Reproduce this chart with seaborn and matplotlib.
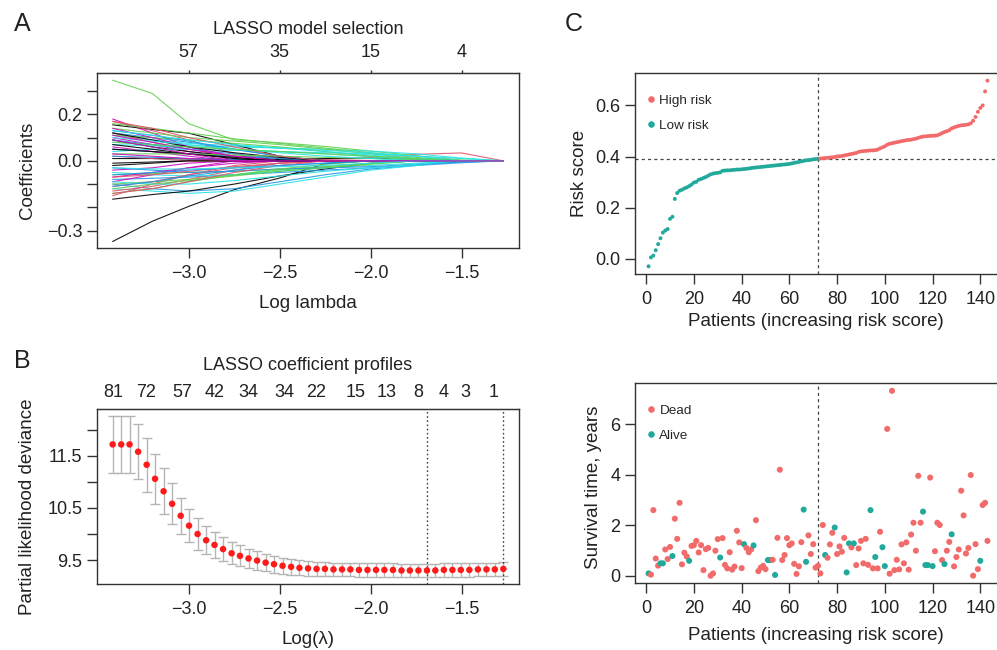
import numpy as np
import pandas as pd
import matplotlib
matplotlib.use('Agg')
import matplotlib.pyplot as plt
from matplotlib.lines import Line2D
import seaborn as sns

# ---- A: LASSO coefficient paths (values read at knot log-lambdas) ----
a_knots = [-3.418, -3.2, -3.0, -2.75, -2.5, -2.25, -2.0, -1.75, -1.5, -1.27]
a_paths = [
    [-0.347, -0.26, -0.196, -0.124, -0.074, -0.012, 0, 0, 0, 0],
    [0.05, 0.04, 0.03, 0.02, 0.012, 0.006, 0.01, 0.028, 0.034, 0],
    [0.347, 0.29, 0.16, 0.09, 0.078, 0.062, 0.042, 0.022, 0.004, 0],
    [-0.10, -0.12, -0.13, -0.12, -0.09, -0.06, -0.035, -0.02, -0.008, 0],
    [0.08, 0.07, 0.065, 0.06, 0.055, 0.05, 0.042, 0.03, 0.012, 0],
    [0.18, 0.12, 0.06, 0, 0, 0, 0, 0, 0, 0],
    [0.155, 0.135, 0.119, 0.07, 0.02, 0, 0, 0, 0, 0],
    [0.17, 0.13, 0.09, 0.03, 0, 0, 0, 0, 0, 0],
    [0.16, 0.14, 0.12, 0.095, 0.075, 0.055, 0.035, 0.015, 0, 0],
    [0.12, 0.10, 0.08, 0.05, 0.02, 0, 0, 0, 0, 0],
    [-0.12, -0.13, -0.14, -0.13, -0.10, -0.07, -0.04, -0.02, 0, 0],
    [0.10, 0.07, 0.04, 0.01, 0, 0, 0, 0, 0, 0],
    [-0.165, -0.145, -0.13, -0.10, -0.065, -0.035, -0.01, 0, 0, 0],
    [-0.15, -0.10, -0.06, -0.02, 0, 0, 0, 0, 0, 0],
    [0.14, 0.12, 0.10, 0.085, 0.07, 0.05, 0.03, 0.01, 0, 0],
    [-0.08, -0.075, -0.07, -0.06, -0.05, -0.04, -0.03, -0.015, -0.005, 0],
    [0.11, 0.09, 0.075, 0.065, 0.055, 0.045, 0.035, 0.02, 0, 0],
    [-0.09, -0.06, -0.03, 0, 0, 0, 0, 0, 0, 0],
    [0.09, 0.06, 0.04, 0.02, 0.005, 0, 0, 0, 0, 0],
    [-0.13, -0.11, -0.08, -0.04, -0.01, 0, 0, 0, 0, 0],
    [-0.10, -0.09, -0.08, -0.06, -0.04, -0.025, -0.01, 0, 0, 0],
    [0.05, 0.04, 0.03, 0.02, 0.01, 0, 0, 0, 0, 0],
    [-0.05, -0.06, -0.065, -0.06, -0.045, -0.03, -0.02, -0.01, 0, 0],
    [0.06, 0.04, 0.02, 0, 0, 0, 0, 0, 0, 0],
    [0.01, 0.01, 0.008, 0.006, 0.004, 0.01, 0.012, 0.006, 0, 0],
    [0.12, 0.08, 0.05, 0.02, 0, 0, 0, 0, 0, 0],
    [-0.06, -0.055, -0.05, -0.045, -0.035, -0.025, -0.012, 0, 0, 0],
    [0.09, 0.07, 0.05, 0.03, 0.01, 0, 0, 0, 0, 0],
    [0.04, 0.05, 0.05, 0.045, 0.04, 0.035, 0.03, 0.02, 0.01, 0],
    [-0.04, -0.03, -0.01, 0, 0, 0, 0, 0, 0, 0],
    [-0.02, -0.01, 0, 0, 0, 0, 0, 0, 0, 0],
    [-0.11, -0.09, -0.06, -0.03, -0.01, 0, 0, 0, 0, 0],
    [0.11, 0.10, 0.09, 0.075, 0.06, 0.04, 0.02, 0, 0, 0],
    [-0.03, -0.04, -0.05, -0.045, -0.035, -0.03, -0.025, -0.015, -0.005, 0],
    [0.07, 0.065, 0.06, 0.05, 0.04, 0.03, 0.018, 0.005, 0, 0],
    [0.14, 0.10, 0.06, 0.02, 0, 0, 0, 0, 0, 0],
    [0.05, 0.04, 0.03, 0.015, 0, 0, 0, 0, 0, 0],
    [0.02, 0.01, 0, 0, 0, 0, 0, 0, 0, 0],
    [-0.14, -0.12, -0.09, -0.06, -0.035, -0.015, 0, 0, 0, 0],
    [0.13, 0.11, 0.085, 0.05, 0.02, 0, 0, 0, 0, 0],
    [-0.09, -0.10, -0.10, -0.085, -0.065, -0.045, -0.03, -0.015, 0, 0],
    [-0.07, -0.05, -0.03, -0.01, 0, 0, 0, 0, 0, 0],
    [0.12, 0.09, 0.06, 0.035, 0.015, 0, 0, 0, 0, 0],
    [-0.07, -0.06, -0.045, -0.025, -0.01, 0, 0, 0, 0, 0],
    [0.03, 0.03, 0.03, 0.025, 0.02, 0.015, 0.01, 0.005, 0, 0],
    [-0.11, -0.09, -0.065, -0.04, -0.02, -0.01, 0, 0, 0, 0],
    [0.10, 0.085, 0.07, 0.05, 0.035, 0.02, 0.01, 0, 0, 0],
    [0.11, 0.08, 0.05, 0.02, 0, 0, 0, 0, 0, 0],
    [-0.01, -0.005, 0, 0, 0, 0, 0, 0, 0, 0],
    [0.17, 0.14, 0.10, 0.06, 0.02, 0, 0, 0, 0, 0],
    [-0.12, -0.10, -0.085, -0.065, -0.045, -0.03, -0.015, 0, 0, 0],
    [0.02, 0.015, 0.01, 0.005, 0, 0, 0, 0, 0, 0],
    [0.13, 0.11, 0.09, 0.07, 0.055, 0.04, 0.025, 0.01, 0, 0],
    [0.03, 0.02, 0.01, 0, 0, 0, 0, 0, 0, 0],
    [0.07, 0.05, 0.03, 0.01, 0, 0, 0, 0, 0, 0],
    [-0.14, -0.12, -0.09, -0.05, -0.02, 0, 0, 0, 0, 0],
    [0.08, 0.07, 0.06, 0.05, 0.04, 0.03, 0.02, 0.01, 0, 0],
    [-0.06, -0.05, -0.04, -0.03, -0.02, -0.01, 0, 0, 0, 0],
    [-0.03, -0.035, -0.035, -0.03, -0.025, -0.02, -0.01, 0, 0, 0],
    [0.09, 0.06, 0.03, 0, 0, 0, 0, 0, 0, 0],
]
a_top_pos = [-3.0, -2.5, -2.0, -1.5]
a_top_labels = ['57', '35', '15', '4']

# ---- B: cross-validated partial likelihood deviance ----
b_loglam = [-3.418, -3.371, -3.325, -3.278, -3.231, -3.185, -3.138, -3.091,
            -3.044, -2.998, -2.951, -2.904, -2.858, -2.811, -2.764, -2.718,
            -2.671, -2.624, -2.577, -2.531, -2.484, -2.437, -2.391, -2.344,
            -2.297, -2.251, -2.204, -2.157, -2.111, -2.064, -2.017, -1.970,
            -1.924, -1.877, -1.830, -1.784, -1.737, -1.690, -1.644, -1.597,
            -1.550, -1.504, -1.457, -1.410, -1.363, -1.317, -1.270]
b_dev = [11.72, 11.72, 11.72, 11.58, 11.33, 11.06, 10.82, 10.58, 10.35, 10.16,
         10.00, 9.88, 9.79, 9.71, 9.63, 9.58, 9.53, 9.49, 9.45, 9.42, 9.39,
         9.37, 9.35, 9.34, 9.33, 9.33, 9.32, 9.32, 9.32, 9.31, 9.31, 9.31,
         9.31, 9.31, 9.30, 9.30, 9.30, 9.30, 9.30, 9.31, 9.31, 9.31, 9.31,
         9.32, 9.32, 9.32, 9.33]
b_se = [0.54, 0.54, 0.54, 0.53, 0.52, 0.48, 0.44, 0.39, 0.35, 0.32, 0.30,
        0.27, 0.25, 0.23, 0.21, 0.20, 0.19, 0.18, 0.17, 0.16, 0.155, 0.15,
        0.145, 0.14, 0.135, 0.13, 0.13, 0.13, 0.13, 0.13, 0.13, 0.13, 0.13,
        0.13, 0.13, 0.13, 0.13, 0.13, 0.13, 0.13, 0.13, 0.13, 0.13, 0.13,
        0.13, 0.13, 0.13]
b_vlines = [-1.692, -1.27]
b_top_pos = [-3.412, -3.234, -3.033, -2.860, -2.673, -2.473, -2.299, -2.080,
             -1.911, -1.737, -1.597, -1.478, -1.321]
b_top_labels = ['81', '72', '57', '42', '34', '34', '22', '15', '13', '8',
                '4', '3', '1']

# ---- C: sorted risk scores ----
risk_score = [
    -0.030, 0.005, 0.012, 0.033, 0.057, 0.080, 0.102, 0.110, 0.116, 0.156,
    0.164, 0.234, 0.257, 0.266, 0.270, 0.275, 0.279, 0.284, 0.290, 0.298,
    0.301, 0.309, 0.312, 0.316, 0.320, 0.325, 0.330, 0.333, 0.335, 0.336,
    0.338, 0.344, 0.345, 0.346, 0.346, 0.347, 0.348, 0.349, 0.349, 0.350,
    0.351, 0.352, 0.353, 0.355, 0.356, 0.357, 0.358, 0.359, 0.360, 0.361,
    0.362, 0.363, 0.364, 0.365, 0.366, 0.367, 0.368, 0.369, 0.370, 0.371,
    0.373, 0.375, 0.377, 0.379, 0.381, 0.383, 0.385, 0.386, 0.387, 0.389,
    0.390, 0.391,
    0.392, 0.393, 0.394, 0.395, 0.396, 0.397, 0.398, 0.400, 0.401, 0.402,
    0.404, 0.406, 0.408, 0.410, 0.412, 0.414, 0.418, 0.420, 0.421, 0.422,
    0.423, 0.424, 0.424, 0.425, 0.427, 0.432, 0.436, 0.440, 0.446, 0.450,
    0.452, 0.454, 0.456, 0.458, 0.460, 0.462, 0.464, 0.465, 0.466, 0.468,
    0.470, 0.473, 0.476, 0.478, 0.479, 0.480, 0.481, 0.481, 0.482, 0.483,
    0.487, 0.492, 0.496, 0.499, 0.503, 0.510, 0.514, 0.517, 0.520, 0.522,
    0.523, 0.524, 0.526, 0.530, 0.540, 0.555, 0.575, 0.590, 0.600, 0.655,
    0.697,
]
n_low = 72
risk_cut = 0.392

# ---- D: survival time per patient ----
surv_time = [
    0.09, 0.04, 2.60, 0.68, 0.40, 0.49, 0.49, 1.04, 0.66, 1.14,
    0.78, 2.26, 1.46, 2.89, 0.45, 0.91, 0.76, 0.59, 1.18, 1.21,
    1.38, 0.92, 1.21, 0.22, 1.05, 1.10, 0.00, 0.09, 0.99, 1.45,
    0.72, 1.49, 0.43, 0.29, 0.93, 0.24, 0.36, 1.78, 1.32, 0.30,
    1.25, 1.10, 0.93, 1.04, 1.20, 2.20, 0.18, 0.32, 0.39, 0.26,
    0.62, 0.62, 0.63, 0.03, 1.50, 4.20, 0.62, 0.82, 1.49, 1.21,
    1.28, 0.47, 0.07, 0.37, 1.33, 2.62, 0.55, 1.60, 0.86, 1.25,
    0.32, 0.39, 0.09, 2.01, 0.82, 0.71, 1.24, 1.70, 1.91, 0.86,
    1.16, 0.95, 1.50, 0.13, 1.28, 1.12, 1.28, 0.42, 1.08, 1.38,
    0.49, 1.46, 0.43, 2.60, 0.29, 0.74, 0.29, 1.74, 1.13, 0.38,
    5.82, 0.08, 7.33, 0.22, 0.63, 0.25, 1.24, 0.49, 1.32, 0.24,
    1.63, 2.10, 0.99, 3.96, 2.10, 2.54, 0.42, 0.42, 3.89, 0.38,
    0.97, 2.10, 2.01, 0.62, 0.46, 0.99, 1.34, 1.64, 0.37, 0.74,
    1.04, 3.37, 2.39, 0.88, 1.10, 3.99, 0.00, 1.25, 0.26, 0.59,
    2.80, 2.89, 1.38,
]
alive_ids = [1, 6, 7, 11, 18, 31, 41, 45, 51, 52, 54, 66, 67, 75, 79, 84, 85,
             87, 94, 96, 99, 100, 116, 117, 118, 120, 125, 128, 140]

# ---- style ----
sns.set_style('ticks')
plt.rcParams['font.family'] = ['Liberation Sans', 'DejaVu Sans']
r_cols = ['black', '#DF536B', '#61D04F', '#2297E6', '#28E2E5', '#CD0BBC']
red = '#F26B6B'
teal = '#21A99B'
ink = '#333333'

W, H = 997, 650
fig = plt.figure(figsize=(W / 100, H / 100), dpi=100)


def add_ax(l, t, r, b):
    return fig.add_axes([l / W, 1 - b / H, (r - l) / W, (b - t) / H])


def style(ax):
    for s in ax.spines.values():
        s.set_color(ink)
        s.set_linewidth(1.0)
        s.set_visible(True)
    ax.tick_params(direction='out', length=7, width=1.0, color=ink,
                   labelsize=13, labelcolor='#222222', bottom=True, left=True,
                   top=False, right=False)
    ax.tick_params(axis='x', pad=5)
    ax.tick_params(axis='y', pad=3.5)
    ax.set_xlabel('')
    ax.set_ylabel('')


def mlabels(vals, fmt):
    return [fmt.format(v).replace('-', '\u2212') for v in vals]


# A
axA = add_ax(97, 73, 519, 248)
rows = []
for i, p in enumerate(a_paths):
    for x, c in zip(a_knots, p):
        rows.append((i, x, c))
dfa = pd.DataFrame(rows, columns=['path', 'loglam', 'coef'])
sns.lineplot(data=dfa, x='loglam', y='coef', hue='path', estimator=None,
             palette=[r_cols[i % 6] for i in range(len(a_paths))],
             linewidth=0.8, alpha=0.9, legend=False, ax=axA)
axA.set_xlim(-3.504, -1.184)
axA.set_ylim(-0.375, 0.378)
style(axA)
axA.set_xticks([-3.0, -2.5, -2.0, -1.5])
axA.set_xticklabels(mlabels([-3.0, -2.5, -2.0, -1.5], '{:.1f}'))
yt = [-0.3, -0.2, -0.1, 0.0, 0.1, 0.2, 0.3]
axA.set_yticks(yt)
axA.set_yticklabels(['\u22120.3', '', '', '0.0', '', '0.2', ''])
topA = axA.secondary_xaxis('top')
topA.set_xticks(a_top_pos)
topA.set_xticklabels(a_top_labels)
topA.tick_params(direction='out', length=2.5, width=1.0, color=ink,
                 labelsize=13, labelcolor='#222222', pad=6)
fig.text(308 / W, 1 - 29 / H, 'LASSO model selection', ha='center',
         va='center', fontsize=13, color='#222222')
fig.text(308 / W, 1 - 303 / H, 'Log lambda', ha='center', va='center',
         fontsize=13.5, color='#222222')
fig.text(27.5 / W, 1 - 170 / H, 'Coefficients', ha='center', va='center',
         rotation=90, fontsize=13.5, color='#222222')

# B
axB = add_ax(97, 409, 519, 584)
axB.errorbar(b_loglam, b_dev, yerr=b_se, fmt='none', ecolor='#B5B5B5',
             elinewidth=1.0, capsize=3.6, capthick=1.0, zorder=1)
sns.scatterplot(x=b_loglam, y=b_dev, color='#FF1A1A', s=22, edgecolor='none',
                ax=axB, zorder=3)
for v in b_vlines:
    axB.axvline(v, color='#444444', linestyle=(0, (1.2, 1.8)), linewidth=1.0,
                zorder=2)
axB.set_xlim(-3.504, -1.184)
axB.set_ylim(9.04, 12.40)
style(axB)
axB.set_xticks([-3.0, -2.5, -2.0, -1.5])
axB.set_xticklabels(mlabels([-3.0, -2.5, -2.0, -1.5], '{:.1f}'))
axB.set_yticks([9.5, 10.0, 10.5, 11.0, 11.5, 12.0])
axB.set_yticklabels(['9.5', '', '10.5', '', '11.5', ''])
topB = axB.secondary_xaxis('top')
topB.set_xticks(b_top_pos)
topB.set_xticklabels(b_top_labels)
topB.tick_params(length=0, labelsize=13, labelcolor='#222222', pad=6)
fig.text(308 / W, 1 - 366 / H, 'LASSO coefficient profiles', ha='center',
         va='center', fontsize=13, color='#222222')
fig.text(308 / W, 1 - 640 / H, 'Log(\u03bb)', ha='center', va='center',
         fontsize=13.5, color='#222222')
fig.text(27.5 / W, 1 - 507 / H, 'Partial likelihood deviance', ha='center',
         va='center', rotation=90, fontsize=13.5, color='#222222')

# C
patients = np.arange(1, len(risk_score) + 1)
dfc = pd.DataFrame({'patient': patients, 'risk': risk_score,
                    'group': ['Low risk' if i <= n_low else 'High risk'
                              for i in patients]})
axC = add_ax(635, 73, 1001, 274)
sns.scatterplot(data=dfc, x='patient', y='risk', hue='group',
                palette={'High risk': red, 'Low risk': teal}, s=8,
                edgecolor='none', legend=False, ax=axC, zorder=3)
axC.axvline(n_low, color='#444444', linestyle=(0, (2.5, 2.5)), linewidth=0.9)
axC.axhline(risk_cut, color='#444444', linestyle=(0, (2.5, 2.5)),
            linewidth=0.9)
axC.set_xlim(-4.68, 148.68)
axC.set_ylim(-0.060, 0.727)
style(axC)
axC.set_xticks(range(0, 141, 20))
axC.set_yticks([0.0, 0.2, 0.4, 0.6])
axC.set_yticklabels(['0.0', '0.2', '0.4', '0.6'])
hC = [Line2D([], [], marker='o', ls='none', color=red, markersize=4.7,
             markeredgewidth=0, label='High risk'),
      Line2D([], [], marker='o', ls='none', color=teal, markersize=4.7,
             markeredgewidth=0, label='Low risk')]
axC.legend(handles=hC, loc='upper left', bbox_to_anchor=(0.028, 0.895),
           frameon=False, fontsize=9.7, handlelength=0.8, handletextpad=0.25,
           labelspacing=0.95, borderpad=0, borderaxespad=0)
fig.text(816 / W, 1 - 322 / H, 'Patients (increasing risk score)',
         ha='center', va='center', fontsize=13.5, color='#222222')
fig.text(580 / W, 1 - 173.5 / H, 'Risk score', ha='center', va='center',
         rotation=90, fontsize=13.5, color='#222222')
fig.text(574 / W, 1 - 24 / H, 'C', ha='center', va='center', fontsize=18,
         color='#222222')

# D
dfd = pd.DataFrame({'patient': patients, 'time': surv_time,
                    'status': ['Alive' if i in alive_ids else 'Dead'
                               for i in patients]})
axD = add_ax(635, 383, 1001, 583)
sns.scatterplot(data=dfd, x='patient', y='time', hue='status',
                palette={'Dead': red, 'Alive': teal}, s=19, edgecolor='none',
                legend=False, ax=axD, zorder=3)
axD.axvline(n_low, color='#444444', linestyle=(0, (2.5, 2.5)), linewidth=0.9)
axD.set_xlim(-4.68, 148.68)
axD.set_ylim(-0.29, 7.64)
style(axD)
axD.set_xticks(range(0, 141, 20))
axD.set_yticks([0, 2, 4, 6])
hD = [Line2D([], [], marker='o', ls='none', color=red, markersize=4.7,
             markeredgewidth=0, label='Dead'),
      Line2D([], [], marker='o', ls='none', color=teal, markersize=4.7,
             markeredgewidth=0, label='Alive')]
axD.legend(handles=hD, loc='upper left', bbox_to_anchor=(0.028, 0.893),
           frameon=False, fontsize=9.7, handlelength=0.8, handletextpad=0.25,
           labelspacing=0.95, borderpad=0, borderaxespad=0)
fig.text(816 / W, 1 - 635 / H, 'Patients (increasing risk score)',
         ha='center', va='center', fontsize=13.5, color='#222222')
fig.text(593 / W, 1 - 487 / H, 'Survival time, years', ha='center',
         va='center', rotation=90, fontsize=13.5, color='#222222')

fig.text(22 / W, 1 - 24 / H, 'A', ha='center', va='center', fontsize=18,
         color='#222222')
fig.text(22 / W, 1 - 361 / H, 'B', ha='center', va='center', fontsize=18,
         color='#222222')

fig.savefig('out.png', dpi=100)
